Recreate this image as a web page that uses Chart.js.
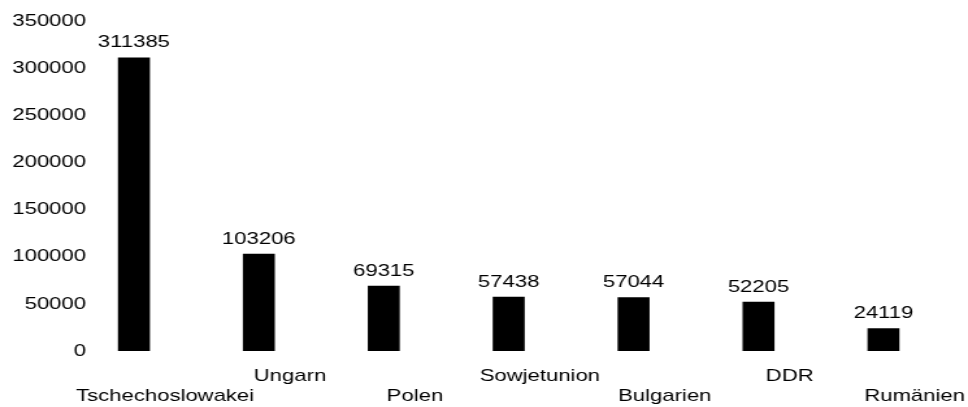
<!DOCTYPE html>
<html><head><meta charset="utf-8">
<script src="https://cdn.jsdelivr.net/npm/chart.js@4/dist/chart.umd.min.js"></script>
<style>
html,body{margin:0;padding:0;background:#fff;overflow:hidden;width:968px;height:407px}
#wrap{position:absolute;left:0;top:0;width:745px;height:407px;transform:scaleX(1.2993);transform-origin:0 0}
</style></head><body>
<div id="wrap"><canvas id="c"></canvas></div>
<script>
const categories = ['Tschechoslowakei', 'Ungarn', 'Polen', 'Sowjetunion', 'Bulgarien', 'DDR', 'Rumänien'];
const values = [311385, 103206, 69315, 57438, 57044, 52205, 24119];
const yMin = 0;
const yMax = 350000;
const yStep = 50000;

// staggered category labels: even indices on the lower row, odd on the upper row
const staggeredLabels = categories.map((c, i) => (i % 2 === 0 ? ['', c] : [c, '']));

Chart.defaults.font.family = "'Liberation Sans', Arial, sans-serif";
Chart.defaults.font.size = 17;
Chart.defaults.color = '#000';

const valueLabels = {
  id: 'valueLabels',
  afterDatasetsDraw(chart) {
    const ctx = chart.ctx;
    const meta = chart.getDatasetMeta(0);
    ctx.save();
    ctx.font = "17px 'Liberation Sans', Arial, sans-serif";
    ctx.fillStyle = '#000';
    ctx.textAlign = 'center';
    ctx.textBaseline = 'alphabetic';
    meta.data.forEach((bar, i) => {
      ctx.fillText(String(chart.data.datasets[0].data[i]), bar.x, bar.y - 10);
    });
    ctx.restore();
  }
};

// measure widest y label so the right-aligned labels end at a fixed spot
const mctx = document.createElement('canvas').getContext('2d');
mctx.font = "17px 'Liberation Sans', Arial, sans-serif";
const widestY = mctx.measureText(String(yMax)).width;

new Chart(document.getElementById('c'), {
  type: 'bar',
  data: {
    labels: staggeredLabels,
    datasets: [{
      data: values,
      backgroundColor: '#000',
      borderWidth: 0,
      barPercentage: 0.256,
      categoryPercentage: 1
    }]
  },
  options: {
    responsive: true,
    maintainAspectRatio: false,
    animation: false,
    layout: { padding: { top: 21, right: 17, bottom: 0, left: 0 } },
    plugins: { legend: { display: false }, tooltip: { enabled: false } },
    scales: {
      x: {
        grid: { display: false, drawTicks: false },
        border: { display: false },
        ticks: {
          autoSkip: false, maxRotation: 0, minRotation: 0,
          padding: 15, labelOffset: 24, color: '#000',
          font: { size: 17, lineHeight: 1.2 }
        },
        afterFit(s) { s.height = 56; s.paddingLeft = 0; s.paddingRight = 0; }
      },
      y: {
        min: yMin, max: yMax,
        grid: { display: false, drawTicks: false },
        border: { display: false },
        ticks: {
          stepSize: yStep, mirror: true, crossAlign: 'far',
          padding: 11.2 - widestY, color: '#000',
          font: { size: 17 },
          callback: v => String(v)
        },
        afterFit(s) { s.width = 55; s.paddingTop = 0; s.paddingBottom = 0; }
      }
    }
  },
  plugins: [valueLabels]
});
</script>
</body></html>
